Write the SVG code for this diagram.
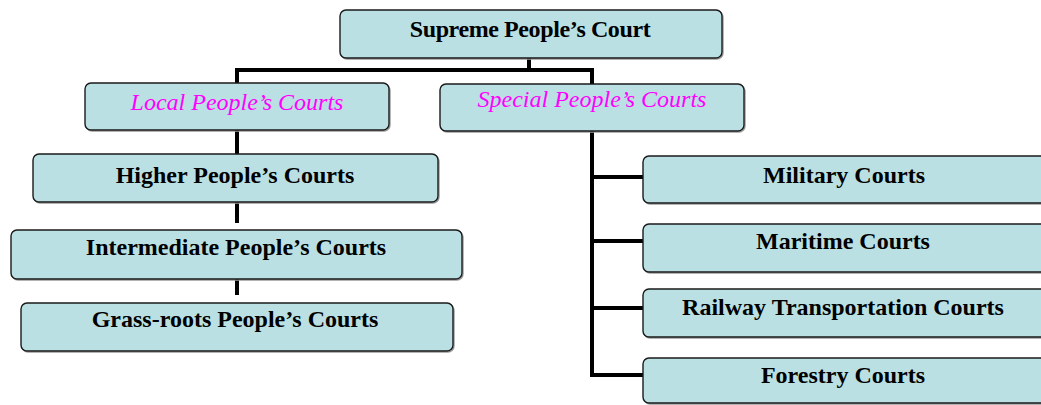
<svg xmlns="http://www.w3.org/2000/svg" width="1041" height="405" viewBox="0 0 1041 405">
<style>
.box{fill:#BBE0E3;stroke:#1a1a1a;stroke-width:1.4}
.sh{fill:none;stroke:#9a9a9a;stroke-width:1.4}
.t{font-family:"Liberation Serif","Times New Roman",serif;font-weight:bold;font-size:24px;fill:#000;text-anchor:middle}
.it{font-family:"Liberation Serif","Times New Roman",serif;font-style:italic;font-size:24px;fill:#FF00FF;text-anchor:middle}
.c{fill:none;stroke:#000;stroke-width:4;stroke-linejoin:miter}
</style>
<rect width="1041" height="405" fill="#fff"/>
<g id="connectors">
<path class="c" d="M529 58V70M237 83V70H592V84"/>
<path class="c" d="M237 130V154M237 202V223M237 279V295"/>
<path class="c" d="M592 131V375H643M592 177H643M592 241H643M592 308H643"/>
</g>
<g id="supreme"><rect class="sh" x="341" y="11" width="382" height="48" rx="6"/><rect class="box" x="340" y="10" width="382" height="48" rx="6"/><text class="t" x="530" y="37" font-size="20" letter-spacing="-0.4">Supreme People’s Court</text></g>
<g id="local"><rect class="sh" x="86" y="84" width="304" height="47" rx="6"/><rect class="box" x="85" y="83" width="304" height="47" rx="6"/><text class="it" x="237" y="110">Local People’s Courts</text></g>
<g id="special"><rect class="sh" x="441" y="85" width="304" height="47" rx="6"/><rect class="box" x="440" y="84" width="304" height="47" rx="6"/><text class="it" x="592" y="107">Special People’s Courts</text></g>
<g id="higher"><rect class="sh" x="34" y="155" width="405" height="48" rx="6"/><rect class="box" x="33" y="154" width="405" height="48" rx="6"/><text class="t" x="235" y="183">Higher People’s Courts</text></g>
<g id="intermediate"><rect class="sh" x="12" y="231" width="451" height="49" rx="6"/><rect class="box" x="11" y="230" width="451" height="49" rx="6"/><text class="t" x="236" y="255">Intermediate People’s Courts</text></g>
<g id="grassroots"><rect class="sh" x="22" y="304" width="432" height="48" rx="6"/><rect class="box" x="21" y="303" width="432" height="48" rx="6"/><text class="t" x="235" y="327">Grass-roots People’s Courts</text></g>
<g id="military"><rect class="sh" x="644" y="157" width="410" height="47" rx="6"/><rect class="box" x="643" y="156" width="410" height="47" rx="6"/><text class="t" x="844" y="183">Military Courts</text></g>
<g id="maritime"><rect class="sh" x="644" y="225" width="410" height="48" rx="6"/><rect class="box" x="643" y="224" width="410" height="48" rx="6"/><text class="t" x="843" y="249">Maritime Courts</text></g>
<g id="railway"><rect class="sh" x="644" y="290" width="410" height="48" rx="6"/><rect class="box" x="643" y="289" width="410" height="48" rx="6"/><text class="t" x="843" y="315">Railway Transportation Courts</text></g>
<g id="forestry"><rect class="sh" x="644" y="359" width="410" height="45" rx="6"/><rect class="box" x="643" y="358" width="410" height="45" rx="6"/><text class="t" x="843" y="383">Forestry Courts</text></g>
</svg>
